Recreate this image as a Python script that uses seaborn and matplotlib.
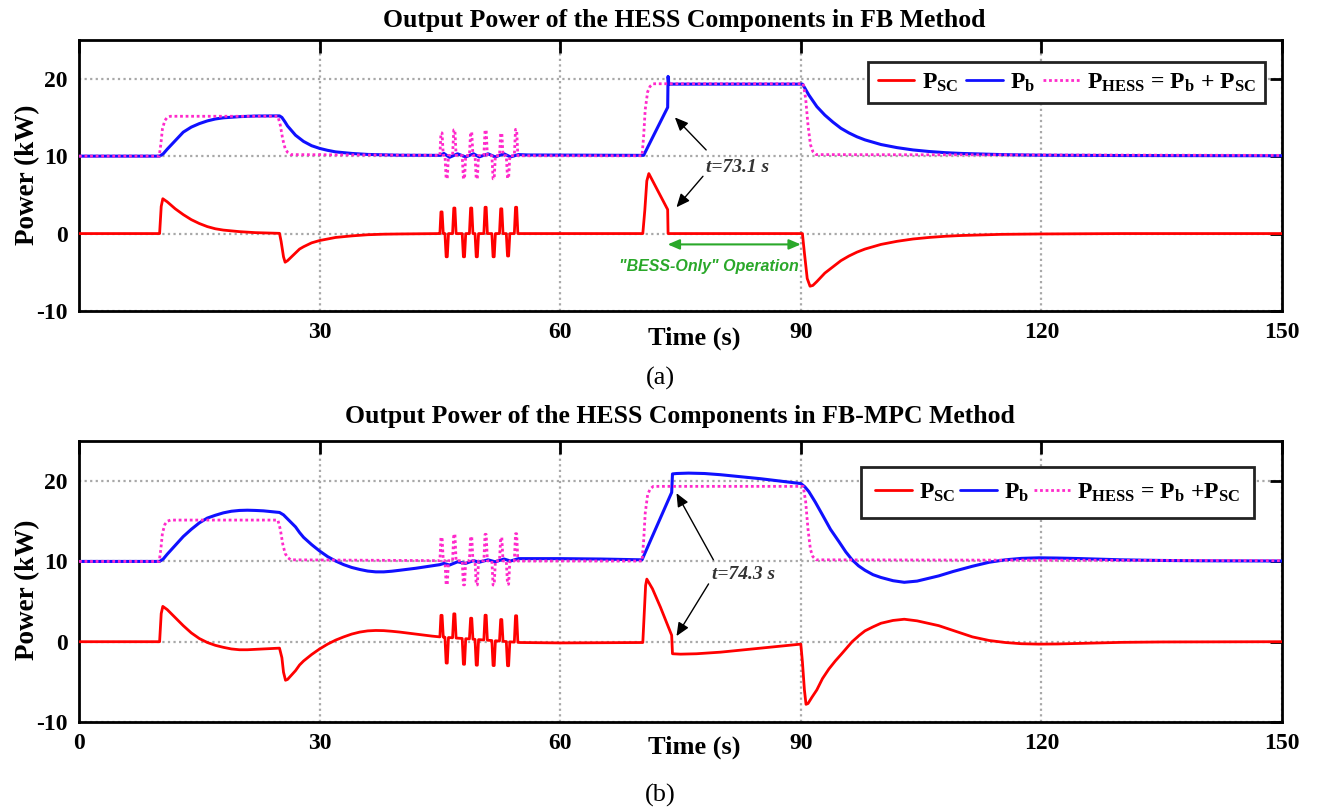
import numpy as np
import matplotlib
matplotlib.use("Agg")
import matplotlib.pyplot as plt
import seaborn as sns
from matplotlib.lines import Line2D

# ---------------- data ----------------
# Total HESS demand (same in both methods)
hess_t = [0, 10.0, 10.2, 10.4, 10.7, 11.0, 11.4, 24.8, 25.1, 25.4, 25.7, 26.0, 26.4, 45, 55,
          70.2, 70.4, 70.6, 70.9, 71.2, 71.6, 90.3, 90.6, 90.9, 91.2, 91.5, 91.9, 150]
hess_v = [10, 10, 11.5, 13.5, 14.6, 15.0, 15.15, 15.15, 14.0, 12.2, 11.0, 10.5, 10.2, 10.1, 10.05,
          10.05, 12.5, 16.0, 18.3, 19.0, 19.35, 19.35, 17.5, 14.0, 11.5, 10.6, 10.2, 10.1]

# Load pulses between 45 s and 55 s (pulse centre times and amplitudes)
osc_t = [45.2, 45.85, 46.8, 48.0, 48.9, 49.6, 50.7, 51.7, 52.65, 53.5, 54.5]
osc_hess = [2.9, -3.0, 3.3, -3.0, 3.0, -3.0, 3.3, -3.0, 2.9, -2.9, 3.4]
osc_sc_fb = [2.8, -3.0, 3.3, -3.0, 3.3, -3.0, 3.4, -3.0, 3.2, -2.9, 3.4]
osc_sc_mpc = [2.7, -3.2, 3.0, -3.2, 2.6, -3.2, 3.1, -3.1, 2.7, -3.0, 3.3]

# (a) FB method
pb_fb_t = [0, 10.05, 10.5, 11, 12, 13, 14, 15, 16, 17, 18, 20, 22, 25.0, 25.3, 25.7, 26, 27, 28, 29,
           30, 31, 32, 34, 36, 40, 45, 45.5, 46.2, 47.2, 48.2, 49.2, 49.9, 51.0, 51.9, 53.0, 53.8,
           54.8, 56, 70.4, 73.4, 73.45, 73.55, 90.2, 90.5, 91, 92, 93, 94, 95, 96, 97, 98, 100,
           102, 104, 106, 108, 110, 115, 120, 130, 150]
pb_fb_v = [10, 10, 10.3, 10.9, 12.0, 13.1, 13.75, 14.2, 14.55, 14.8, 14.95, 15.1, 15.18, 15.2, 15.0,
           14.4, 13.9, 12.7, 11.9, 11.35, 11.0, 10.75, 10.55, 10.35, 10.22, 10.12, 10.1, 10.35, 9.85,
           10.3, 9.9, 10.3, 9.9, 10.3, 9.9, 10.3, 9.9, 10.2, 10.15, 10.1, 16.3, 20.3, 19.3, 19.3,
           18.8, 17.9, 16.4, 15.3, 14.4, 13.6, 13.0, 12.5, 12.1, 11.5, 11.1, 10.8, 10.6, 10.45,
           10.35, 10.2, 10.12, 10.08, 10.05]
psc_fb_t = [0, 10.05, 10.25, 10.45, 11, 12, 13, 14, 15, 16, 17, 18, 20, 22, 25.0, 25.2, 25.5, 25.7,
            26, 27, 27.5, 28, 29, 30, 32, 34, 36, 38, 40, 45, 55, 70.3, 70.55, 70.8, 71.05, 73.4,
            73.45, 90.2, 90.45, 90.8, 91.15, 91.5, 92, 93, 94, 95, 96, 97, 98, 100, 102, 104,
            106, 108, 110, 115, 120, 130, 150]
psc_fb_v = [0, 0, 3.5, 4.5, 4.1, 3.2, 2.45, 1.8, 1.3, 0.9, 0.62, 0.45, 0.25, 0.12, 0.03, -1.0, -3.0,
            -3.7, -3.5, -2.5, -2.0, -1.7, -1.2, -0.9, -0.5, -0.3, -0.15, -0.08, -0.05, 0, 0, 0,
            3.0, 6.8, 7.75, 3.1, 0.0, 0, -2.5, -5.8, -6.8, -6.7, -6.2, -5.1, -4.3, -3.5, -2.9,
            -2.4, -2.0, -1.4, -1.0, -0.7, -0.5, -0.35, -0.25, -0.1, -0.05, 0, 0]

# (b) FB-MPC method
pb_mpc_t = [0, 10.05, 10.5, 11, 12, 13, 14, 15, 16, 17, 18, 19, 20, 21, 22, 23, 24, 25, 25.5, 26,
            27, 27.5, 28, 29, 30, 31, 32, 33, 34, 35, 36, 37, 38, 39, 40, 42, 44, 45, 45.5, 46.2,
            47.2, 48.2, 49.2, 49.9, 51.0, 51.9, 53.0, 53.8, 54.8, 56, 60, 65, 70.2, 73.9, 74.0,
            74.5, 76, 78, 80, 85, 90.0, 90.5, 91, 91.8, 92.7, 93.7, 94.8, 95.6, 96.4, 97.2, 98,
            99, 100, 101.5, 102.9, 104.5, 107.2, 109, 111.4, 113.5, 115.5, 117.5, 119.7, 122,
            125, 130, 135, 140, 150]
pb_mpc_v = [10, 10, 10.3, 10.9, 12.0, 13.1, 14.0, 14.8, 15.4, 15.75, 16.05, 16.25, 16.35, 16.38,
            16.35, 16.3, 16.2, 16.1, 15.8, 15.3, 14.3, 13.6, 13.0, 12.1, 11.3, 10.6, 10.05, 9.6,
            9.25, 9.0, 8.8, 8.7, 8.7, 8.78, 8.9, 9.15, 9.45, 9.6, 9.75, 9.55, 9.95, 9.75, 10.1, 9.9,
            10.2, 9.95, 10.3, 10.05, 10.35, 10.35, 10.35, 10.3, 10.2, 18.6, 20.9, 20.95, 21.0,
            20.95, 20.8, 20.3, 19.7, 19.3, 18.7, 17.4, 15.8, 14.0, 12.4, 11.2, 10.2, 9.45, 8.9,
            8.35, 8.0, 7.6, 7.4, 7.55, 8.2, 8.75, 9.4, 9.9, 10.2, 10.38, 10.45, 10.42, 10.35,
            10.2, 10.12, 10.08, 10.05]
psc_mpc_t = [0, 10.05, 10.25, 10.45, 11, 12, 13, 14, 15, 16, 17, 18, 19, 20, 21, 22, 23, 24, 25.0,
             25.3, 25.5, 25.75, 26, 27, 27.5, 28, 29, 30, 31, 32, 33, 34, 35, 36, 37, 38, 39, 40,
             42, 44, 45, 55, 60, 65, 70.3, 70.45, 70.65, 70.8, 71.5, 72.5, 73.9, 74.0, 75, 77, 80,
             85, 90.0, 90.2, 90.45, 90.65, 90.9, 91.4, 92, 92.7, 93.5, 94.3, 95.1, 96.4, 97.3,
             98, 99, 100, 101.5, 102.9, 104.5, 107.2, 109, 111.4, 113.5, 115.5, 117.5, 119.7,
             122, 125, 130, 135, 150]
psc_mpc_v = [0, 0, 3.5, 4.4, 4.0, 3.0, 2.0, 1.1, 0.4, -0.1, -0.45, -0.7, -0.9, -1.0, -1.0, -0.95,
             -0.9, -0.85, -0.8, -2.0, -3.8, -4.8, -4.7, -3.6, -2.9, -2.4, -1.6, -0.9, -0.3, 0.2,
             0.6, 0.95, 1.2, 1.35, 1.4, 1.38, 1.3, 1.2, 0.95, 0.7, 0.6, -0.1, -0.15, -0.12, -0.1,
             3.0, 7.0, 7.8, 6.6, 4.3, 0.8, -1.5, -1.55, -1.5, -1.3, -0.8, -0.3, -2.5, -6.0, -7.8,
             -7.7, -6.9, -6.0, -4.6, -3.4, -2.4, -1.5, 0, 0.8, 1.35, 1.85, 2.3, 2.65, 2.8, 2.6,
             2.0, 1.4, 0.6, 0.15, -0.1, -0.25, -0.3, -0.28, -0.2, -0.08, -0.03, 0]

x_ticks = [0, 30, 60, 90, 120, 150]
y_ticks = [-10, 0, 10, 20]
titles = ["Output Power of the HESS Components in FB Method",
          "Output Power of the HESS Components in FB-MPC Method"]
legend_labels = [[r"$P_{SC}$", r"$P_{b}$", r"$P_{HESS}$ = $P_{b}$ + $P_{SC}$"],
                 [r"$P_{SC}$", r"$P_{b}$", r"$P_{HESS}$ = $P_{b}$ +$P_{SC}$"]]
annot_text = ["t=73.1 s", "t=74.3 s"]


def with_pulses(t, v, pt, pa, hw=0.22, top=0.07):
    """insert the read pulse peaks into a baseline curve"""
    t = np.asarray(t, float)
    v = np.asarray(v, float)
    nt, nv = list(t), list(v)
    for c, a in zip(pt, pa):
        for dt, f in [(-hw, 0.0), (-top, 1.0), (top, 1.0), (hw, 0.0)]:
            nt.append(c + dt)
            nv.append(np.interp(c + dt, t, v) + f * a)
    order = np.argsort(nt, kind="stable")
    return np.array(nt)[order], np.array(nv)[order]


# ---------------- style ----------------
sns.set_style("white")
plt.rcParams["font.family"] = ["Liberation Serif", "DejaVu Serif"]
plt.rcParams["font.weight"] = "bold"
plt.rcParams["mathtext.fontset"] = "custom"
plt.rcParams["mathtext.rm"] = "Liberation Serif:bold"
plt.rcParams["mathtext.it"] = "Liberation Serif:bold"
plt.rcParams["mathtext.bf"] = "Liberation Serif:bold"
plt.rcParams["mathtext.default"] = "rm"
plt.rcParams["axes.unicode_minus"] = False
for k in ("text.color", "axes.labelcolor", "xtick.color", "ytick.color"):
    plt.rcParams[k] = "black"

RED, BLUE, MAG = "#ff0000", "#1010ff", "#ff2acb"

W, H = 1324, 809
fig = plt.figure(figsize=(W / 100, H / 100), dpi=100)


def fx(px):
    return px / W


def fy(py):
    return 1 - py / H


ax_a = fig.add_axes([fx(79), fy(311), fx(1282) - fx(79), fy(40) - fy(311)])
ax_b = fig.add_axes([fx(79), fy(722), fx(1282) - fx(79), fy(441) - fy(722)])

# (axes, P_b, P_SC, pulse amplitudes, legend anchor, borderpad, columnspacing)
panels = [
    (ax_a, (pb_fb_t, pb_fb_v), (psc_fb_t, psc_fb_v), osc_sc_fb, [0.986, 0.919], 0.4, 0.35),
    (ax_b, (pb_mpc_t, pb_mpc_v), (psc_mpc_t, psc_mpc_v), osc_sc_mpc, [0.977, 0.907], 0.6, 0.2),
]

ht, hv = with_pulses(hess_t, hess_v, osc_t, osc_hess)

for i, (ax, pb, psc, osc_sc, lpos, bpad, cspace) in enumerate(panels):
    st, sv = with_pulses(psc[0], psc[1], osc_t, osc_sc)
    sns.lineplot(x=st, y=sv, ax=ax, color=RED, lw=2.0, sort=False, estimator=None, zorder=3)
    sns.lineplot(x=np.asarray(pb[0]), y=np.asarray(pb[1]), ax=ax, color=BLUE, lw=2.2,
                 sort=False, estimator=None, zorder=4)
    sns.lineplot(x=ht, y=hv, ax=ax, color=MAG, lw=2.0, ls=(0, (1, 1)), sort=False,
                 estimator=None, zorder=5)

    ax.set_xlim(0, 150)
    ax.set_ylim(-10, 25)
    ax.set_xticks(x_ticks)
    ax.set_yticks(y_ticks)
    if i == 0:
        ax.set_xticklabels([""] + [str(x) for x in x_ticks[1:]])
    ax.set_xlabel("")
    ax.set_ylabel("")
    ax.grid(True, color="#a8a8a8", ls=(0, (1, 1.5)), lw=1.6)
    for sp in ax.spines.values():
        sp.set_color("black")
        sp.set_linewidth(2.0)
    ax.tick_params(direction="in", length=9, width=2, top=True, right=True,
                   labelsize=17, pad=8, colors="black")
    for lab in ax.get_xticklabels() + ax.get_yticklabels():
        lab.set_fontweight("bold")

    handles = [Line2D([], [], color=RED, lw=2),
               Line2D([], [], color=BLUE, lw=2),
               Line2D([], [], color=MAG, lw=2, ls=(0, (1, 1)))]
    leg = ax.legend(handles, legend_labels[i], ncol=3, loc="upper right",
                    bbox_to_anchor=lpos, borderaxespad=0,
                    handlelength=1.55, handletextpad=0.3, columnspacing=cspace,
                    frameon=True, fancybox=False, framealpha=1.0,
                    borderpad=bpad,
                    prop={"family": "Liberation Serif", "weight": "bold", "size": 17})
    leg.get_frame().set_edgecolor("#222222")
    leg.get_frame().set_linewidth(2.0)
    leg.get_frame().set_facecolor("white")
    leg.set_zorder(10)

# titles, axis labels, captions
fig.text(fx(684), fy(20), titles[0], ha="center", va="center", fontsize=18.5, fontweight="bold")
fig.text(fx(680), fy(416), titles[1], ha="center", va="center", fontsize=18.5, fontweight="bold")
for yc in (175, 590):
    fig.text(fx(28), fy(yc), "Power (kW)", rotation=90, ha="center", va="center",
             fontsize=19.5, fontweight="bold")
fig.text(fx(694), fy(338), "Time (s)", ha="center", va="center", fontsize=19, fontweight="bold")
fig.text(fx(694), fy(747), "Time (s)", ha="center", va="center", fontsize=19, fontweight="bold")
fig.text(fx(660), fy(378), "(a)", ha="center", va="center", fontsize=19, fontweight="normal")
fig.text(fx(660), fy(795), "(b)", ha="center", va="center", fontsize=19, fontweight="normal")

# annotations
arrow_kw = dict(arrowstyle="-|>,head_length=0.8,head_width=0.35", color="black", lw=1.0,
                shrinkA=0, shrinkB=0)
ax_a.text(82.1, 8.5, annot_text[0], ha="center", va="center", fontsize=14,
          fontstyle="italic", fontweight="bold", color="#333333")
ax_a.annotate("", xy=(74.3, 15.0), xytext=(78.2, 10.8), arrowprops=arrow_kw)
ax_a.annotate("", xy=(74.5, 3.4), xytext=(77.8, 7.4), arrowprops=arrow_kw)
ax_a.annotate("", xy=(73.4, -1.4), xytext=(90.0, -1.4),
              arrowprops=dict(arrowstyle="<|-|>,head_length=0.7,head_width=0.3",
                              color="#2aa82a", lw=1.5, shrinkA=0, shrinkB=0))
ax_a.text(78.6, -4.3, '"BESS-Only" Operation', ha="center", va="center", fontsize=11.5,
          fontstyle="italic", fontweight="bold", color="#2aa82a", family="Liberation Sans")

ax_b.text(82.9, 8.4, annot_text[1], ha="center", va="center", fontsize=14,
          fontstyle="italic", fontweight="bold", color="#333333")
ax_b.annotate("", xy=(74.5, 18.5), xytext=(79.1, 10.2), arrowprops=arrow_kw)
ax_b.annotate("", xy=(74.5, 0.7), xytext=(78.5, 7.2), arrowprops=arrow_kw)

fig.savefig("out.png", dpi=100)
